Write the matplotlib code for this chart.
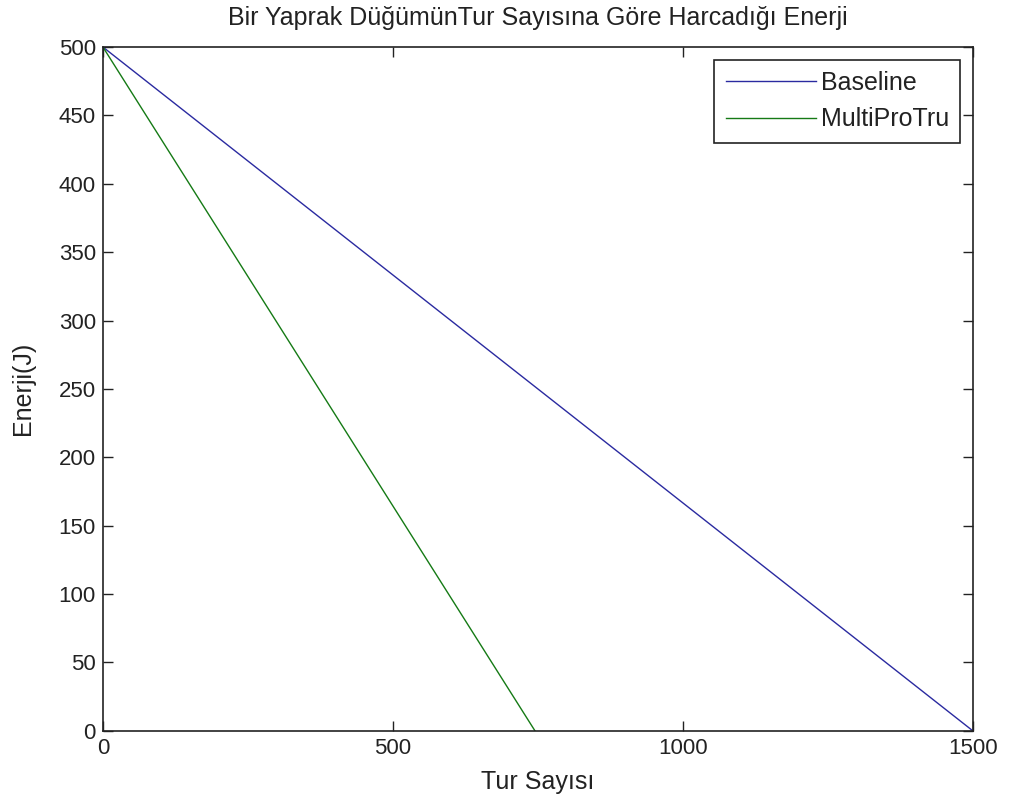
import matplotlib
matplotlib.use("Agg")
import matplotlib.pyplot as plt

# data
rounds_baseline = [0, 1500]
energy_baseline = [500, 0]
rounds_multi = [0, 745]
energy_multi = [500, 0]
x_ticks = [0, 500, 1000, 1500]
y_ticks = list(range(0, 501, 50))

plt.rcParams["font.family"] = ["Liberation Sans", "DejaVu Sans"]

fig = plt.figure(figsize=(10.09, 8.11), dpi=100)
ax = fig.add_axes([0.102, 0.099, 0.862, 0.843])

ax.plot(rounds_baseline, energy_baseline, color="#2a2aa0", lw=1.0, label="Baseline")
ax.plot(rounds_multi, energy_multi, color="#157a15", lw=1.0, label="MultiProTru")

ax.set_xlim(0, 1500)
ax.set_ylim(0, 500)
ax.set_xticks(x_ticks)
ax.set_yticks(y_ticks)
ax.tick_params(direction="in", top=True, right=True, length=7, width=1, labelsize=16,
               colors="#222222", pad=5)
for s in ax.spines.values():
    s.set_linewidth(1.2)
    s.set_color("#222222")

ax.set_title("Bir Yaprak DüğümünTur Sayısına Göre Harcadığı Enerji", fontsize=18,
             pad=16, color="#222222")
ax.set_xlabel("Tur Sayısı", fontsize=18, labelpad=8, color="#222222")
ax.set_ylabel("Enerji(J)", fontsize=18, labelpad=17, color="#222222")

leg = ax.legend(loc="upper right", fontsize=18, fancybox=False, framealpha=1,
                edgecolor="#222222", borderaxespad=0.5, handlelength=3.6,
                handletextpad=0.2, labelspacing=0.5, borderpad=0.45)
leg.get_frame().set_linewidth(1.2)
for t in leg.get_texts():
    t.set_color("#222222")

fig.savefig("out.png", dpi=100)
